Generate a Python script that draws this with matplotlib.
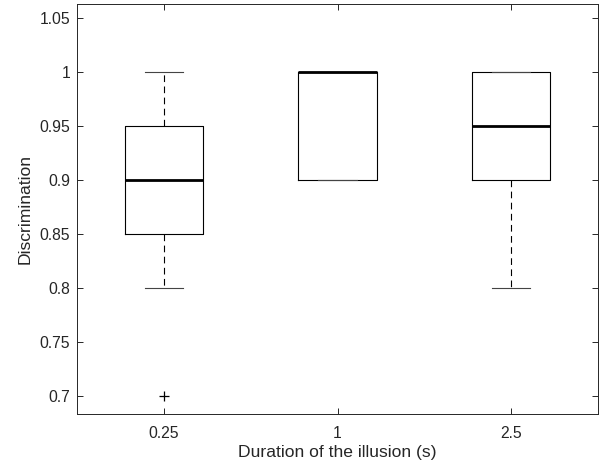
import matplotlib
matplotlib.use("Agg")
import matplotlib.pyplot as plt

categories = ["0.25", "1", "2.5"]
whislo = [0.80, 0.90, 0.80]
q1 = [0.85, 0.90, 0.90]
med = [0.90, 1.00, 0.95]
q3 = [0.95, 1.00, 1.00]
whishi = [1.00, 1.00, 1.00]
fliers = [[0.70], [], []]

plt.rcParams['font.family'] = ['Liberation Sans', 'DejaVu Sans']

fig = plt.figure(figsize=(5.99, 4.69), dpi=100)
ax = fig.add_axes([77/599, 1-414/469, (598-77)/599, (414-4)/469])

stats = []
for i, c in enumerate(categories):
    stats.append(dict(label=c, whislo=whislo[i], q1=q1[i], med=med[i],
                      q3=q3[i], whishi=whishi[i], fliers=fliers[i]))

ax.bxp(stats, positions=[1, 2, 3], widths=0.45,
       boxprops=dict(color='black', linewidth=0.8),
       whiskerprops=dict(color='black', linewidth=0.8, linestyle=(0, (6, 4))),
       capprops=dict(color='#444444', linewidth=0.8),
       medianprops=dict(color='black', linewidth=2.0),
       flierprops=dict(marker='+', markeredgecolor='black', markersize=7, markeredgewidth=0.9),
       capwidths=0.22)

ax.set_xlim(0.5, 3.5)
ax.set_ylim(0.6833, 1.0627)
ax.set_yticks([0.7, 0.75, 0.8, 0.85, 0.9, 0.95, 1.0, 1.05])
ax.set_yticklabels(["0.7", "0.75", "0.8", "0.85", "0.9", "0.95", "1", "1.05"])
ax.set_xticks([1, 2, 3])
ax.set_xticklabels(categories)

for s in ax.spines.values():
    s.set_color('#262626')
    s.set_linewidth(0.7)
ax.tick_params(direction='in', length=4, width=0.7, color='#262626',
               top=True, right=True, labelsize=11.3, labelcolor='#262626')
ax.tick_params(axis='x', pad=8.5)
ax.tick_params(axis='y', pad=5)

ax.set_xlabel("Duration of the illusion (s)", fontsize=12.6, color='#262626', labelpad=3)
ax.set_ylabel("Discrimination", fontsize=12.6, color='#262626', labelpad=5)

fig.savefig("out.png", dpi=100)
